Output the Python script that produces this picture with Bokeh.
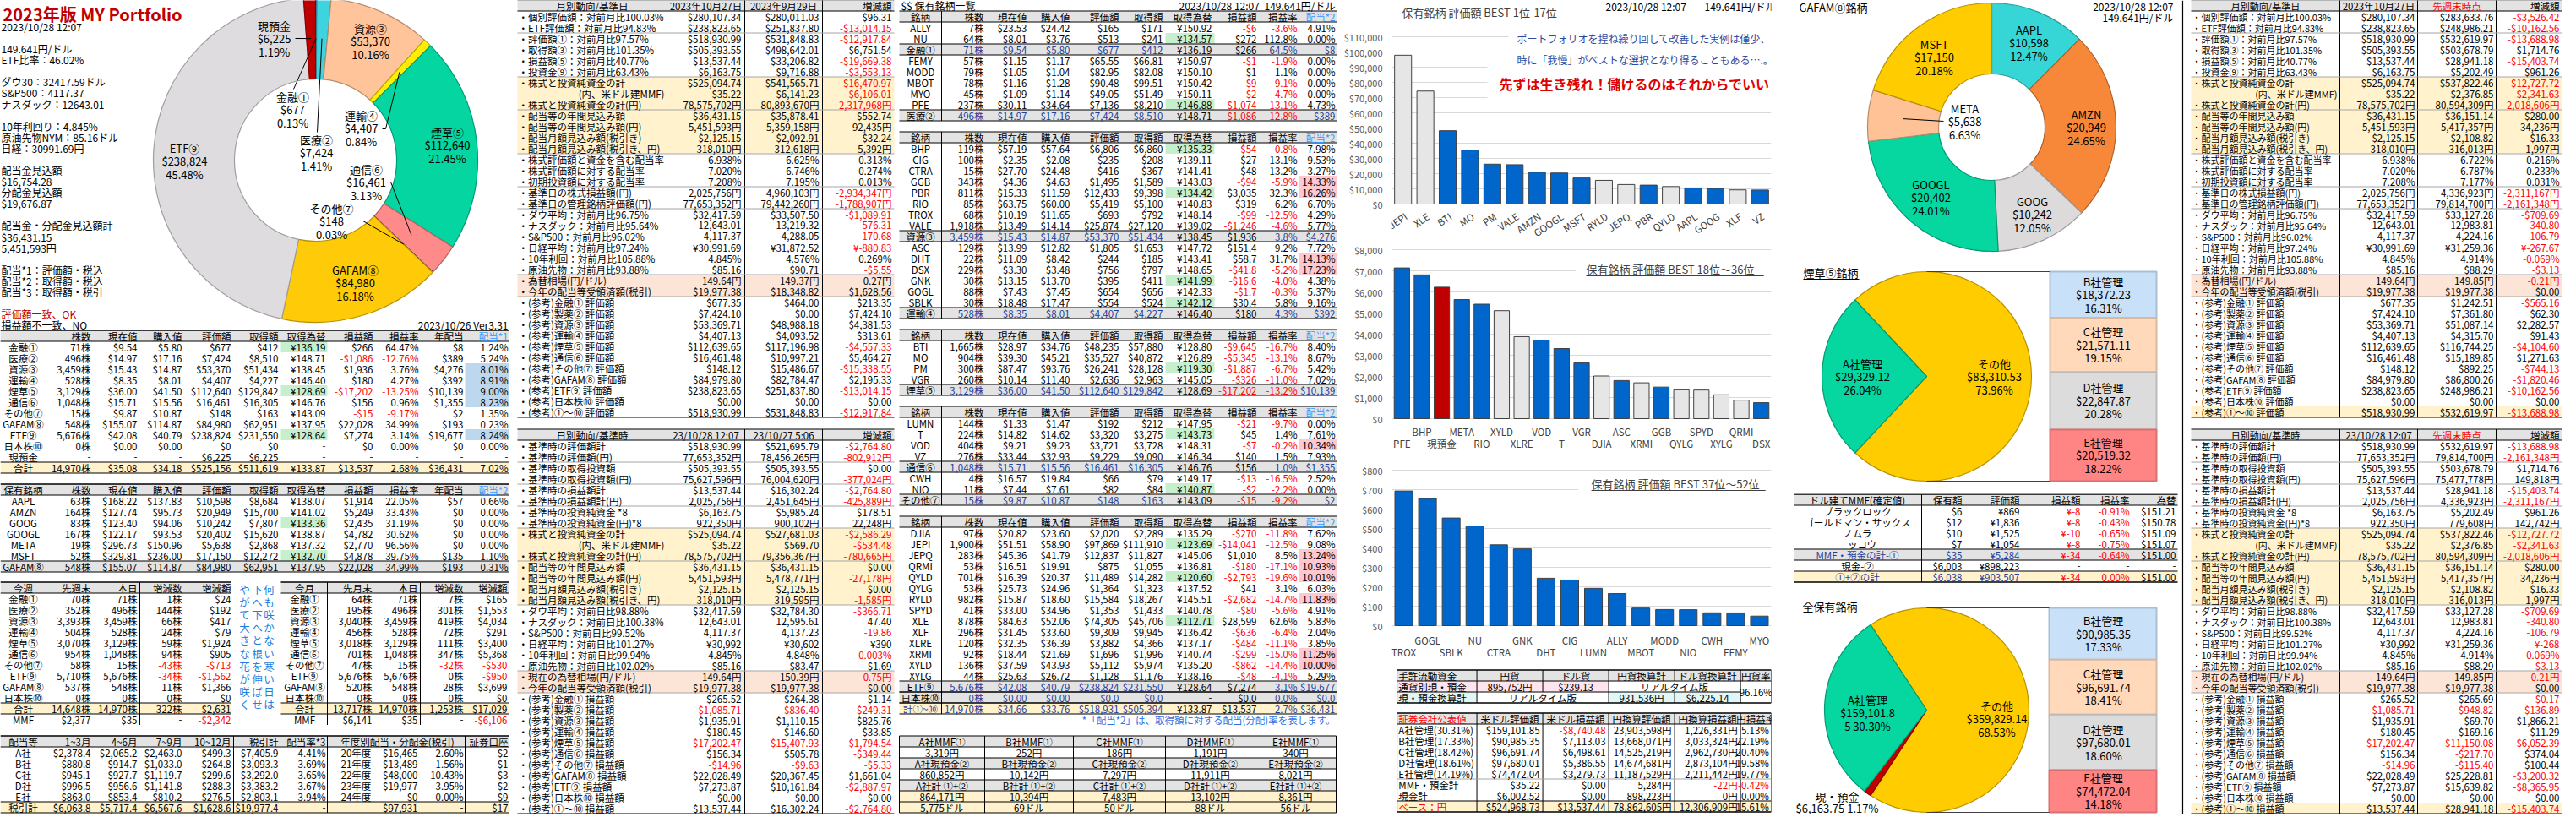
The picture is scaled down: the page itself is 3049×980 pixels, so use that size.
import re
import math
from bokeh.plotting import figure
from bokeh.models import Range1d, FixedTicker, NumeralTickFormatter, ColumnDataSource
from bokeh.layouts import row, column
from bokeh.embed import file_html
from bokeh.resources import INLINE
from bokeh.core.properties import value

# ====================== DATA ======================
sector_names = ["金融①", "医療②", "資源③", "運輸④", "煙草⑤", "通信⑥", "その他⑦", "GAFAM⑧", "ETF⑨", "現預金"]
sector_values = [677, 7424, 53370, 4407, 112640, 16461, 148, 84980, 238824, 6225]

gafam_names = ["AAPL", "AMZN", "GOOG", "GOOGL", "META", "MSFT"]
gafam_values = [10598, 20949, 10242, 20402, 5638, 17150]

tob_a_name = "A社管理"
tob_a_value = 29329.12
tob_box_names = ["B社管理", "C社管理", "D社管理", "E社管理"]
tob_box_values = [18372.23, 21571.11, 22847.87, 20519.32]

all_a_value = 159101.85
all_cash_value = 6163.75
all_box_names = ["B社管理", "C社管理", "D社管理", "E社管理"]
all_box_values = [90985.35, 96691.74, 97680.01, 74472.04]

bar1_names = ["JEPI", "XLE", "BTI", "MO", "PM", "VALE", "AMZN", "GOOGL", "MSFT", "RYLD", "JEPQ", "PBR", "QYLD", "AAPL", "GOOG", "XLF", "VZ"]
bar1_values = [97869, 74305, 48235, 35527, 26241, 25874, 20949, 20402, 17150, 15584, 12837, 12433, 11489, 10598, 10242, 9309, 9229]
bar1_kind = ["etf", "etf", "stock", "stock", "stock", "stock", "stock", "stock", "stock", "etf", "etf", "stock", "etf", "stock", "stock", "etf", "stock"]

bar2_names = ["PFE", "BHP", "現預金", "META", "RIO", "XYLD", "XLRE", "VOD", "T", "VGR", "DJIA", "ASC", "XRMI", "GGB", "QYLG", "SPYD", "XYLG", "QRMI", "DSX"]
bar2_values = [7136, 6806, 6225, 5638, 5419, 5112, 3882, 3721, 3320, 2636, 2020, 1805, 1696, 1495, 1364, 1353, 1128, 875, 756]
bar2_kind = ["stock", "stock", "cash", "stock", "stock", "etf", "etf", "stock", "stock", "stock", "etf", "stock", "etf", "stock", "etf", "etf", "etf", "etf", "stock"]

bar3_names = ["TROX", "GOGL", "SBLK", "NU", "CTRA", "GNK", "DHT", "CIG", "LUMN", "ALLY", "MBOT", "MODD", "NIO", "CWH", "FEMY", "MYO"]
bar3_values = [693, 654, 554, 513, 416, 395, 244, 235, 192, 165, 90.48, 82.95, 82, 66, 65.55, 49.05]
bar3_kind = ["stock"] * 16

info_lines = ["2023/10/28 12:07", "", "149.641円/ドル", "ETF比率：46.02%", "", "ダウ30：32417.59ドル", "S&P500：4117.37",
              "ナスダック：12643.01", "", "10年利回り：4.845%", "原油先物NYM：85.16ドル", "日経：30991.69円", "",
              "配当金見込額", "$16,754.28", "分配金見込額", "$19,676.87", "", "配当金・分配金見込額計", "$36,431.15",
              "5,451,593円", "", "配当*1：評価額・税込", "配当*2：取得額・税込", "配当*3：取得額・税引", "",
              "評価額一致、OK", "損益額不一致、NO"]

sum_header = ["", "株数", "現在値", "購入値", "評価額", "取得額", "取得為替", "損益額", "損益率", "年配当", "配当*1"]
sum_rows = [
    "金融①|71株|$9.54|$5.80|$677|$412|¥136.19|$266|64.47%|$8|1.24%",
    "医療②|496株|$14.97|$17.16|$7,424|$8,510|¥148.71|-$1,086|-12.76%|$389|5.24%",
    "資源③|3,459株|$15.43|$14.87|$53,370|$51,434|¥138.45|$1,936|3.76%|$4,276|8.01%",
    "運輸④|528株|$8.35|$8.01|$4,407|$4,227|¥146.40|$180|4.27%|$392|8.91%",
    "煙草⑤|3,129株|$36.00|$41.50|$112,640|$129,842|¥128.69|-$17,202|-13.25%|$10,139|9.00%",
    "通信⑥|1,048株|$15.71|$15.56|$16,461|$16,305|¥146.76|$156|0.96%|$1,355|8.23%",
    "その他⑦|15株|$9.87|$10.87|$148|$163|¥143.09|-$15|-9.17%|$2|1.35%",
    "GAFAM⑧|548株|$155.07|$114.87|$84,980|$62,951|¥137.95|$22,028|34.99%|$193|0.23%",
    "ETF⑨|5,676株|$42.08|$40.79|$238,824|$231,550|¥128.64|$7,274|3.14%|$19,677|8.24%",
    "日本株⑩|0株|$0.00|$0.00|$0|$0|-|$0|0.00%|$0|0.00%",
    "現預金|-|-|-|$6,225|$6,225|-|-|-|-|-",
]
sum_total = "合計|14,970株|$35.08|$34.18|$525,156|$511,619|¥133.87|$13,537|2.68%|$36,431|7.02%"
sum_green = ["金融①", "煙草⑤", "ETF⑨"]

gafam_header = ["保有銘柄", "株数", "現在値", "購入値", "評価額", "取得額", "取得為替", "損益額", "損益率", "年配当", "配当*2"]
gafam_rows = [
    "AAPL|63株|$168.22|$137.83|$10,598|$8,684|¥138.07|$1,914|22.05%|$57|0.66%",
    "AMZN|164株|$127.74|$95.73|$20,949|$15,700|¥141.02|$5,249|33.43%|$0|0.00%",
    "GOOG|83株|$123.40|$94.06|$10,242|$7,807|¥133.36|$2,435|31.19%|$0|0.00%",
    "GOOGL|167株|$122.17|$93.53|$20,402|$15,620|¥138.87|$4,782|30.62%|$0|0.00%",
    "META|19株|$296.73|$150.96|$5,638|$2,868|¥137.32|$2,770|96.56%|$0|0.00%",
    "MSFT|52株|$329.81|$236.00|$17,150|$12,272|¥132.70|$4,878|39.75%|$135|1.10%",
]
gafam_total = "GAFAM⑧|548株|$155.07|$114.87|$84,980|$62,951|¥137.95|$22,028|34.99%|$193|0.31%"
gafam_green = ["GOOG", "MSFT"]

wk_header = ["今週", "先週末", "本日", "増減数", "増減額"]
wk_rows = ["金融①|70株|71株|1株|$24", "医療②|352株|496株|144株|$192", "資源③|3,393株|3,459株|66株|$417",
           "運輸④|504株|528株|24株|$79", "煙草⑤|3,070株|3,129株|59株|$1,924", "通信⑥|954株|1,048株|94株|$905",
           "その他⑦|58株|15株|-43株|-$713", "ETF⑨|5,710株|5,676株|-34株|-$1,562", "GAFAM⑧|537株|548株|11株|$1,366",
           "日本株⑩|0株|0株|0株|$0"]
wk_total = "合計|14,648株|14,970株|322株|$2,631"
wk_mmf = "MMF|$2,377|$35|-|-$2,342"
mo_header = ["今月", "先月末", "本日", "増減数", "増減額"]
mo_rows = ["金融①|64株|71株|7株|$165", "医療②|195株|496株|301株|$1,553", "資源③|3,040株|3,459株|419株|$4,034",
           "運輸④|456株|528株|72株|$291", "煙草⑤|3,018株|3,129株|111株|$3,400", "通信⑥|701株|1,048株|347株|$5,368",
           "その他⑦|47株|15株|-32株|-$530", "ETF⑨|5,676株|5,676株|0株|-$950", "GAFAM⑧|520株|548株|28株|$3,699",
           "日本株⑩|0株|0株|0株|$0"]
mo_total = "合計|13,717株|14,970株|1,253株|$17,029"
mo_mmf = "MMF|$6,141|$35|-|-$6,106"
poem_columns = ["何も咲かない寒い日は", "下へ下へと根を伸ばせ", "やがて大きな花が咲く"]

div_header = ["配当等", "1~3月", "4~6月", "7~9月", "10~12月", "税引計", "配当率*3", "年度別配当・分配金(税引)", "証券口座"]
div_rows = ["A社|$2,378.4|$2,065.2|$2,463.0|$499.3|$7,405.9|4.41%|20年度|$16,465|2.60%|$2",
            "B社|$880.8|$914.7|$1,033.0|$264.8|$3,093.3|3.69%|21年度|$13,489|1.56%|$1",
            "C社|$945.1|$927.7|$1,119.7|$299.6|$3,292.0|3.65%|22年度|$48,000|10.43%|$3",
            "D社|$996.5|$956.6|$1,141.8|$288.3|$3,383.2|3.67%|23年度|$19,977|3.95%|$2",
            "E社|$863.0|$853.4|$810.2|$276.5|$2,803.1|3.94%|24年度|$0|0.00%|$9"]
div_total = "税引計|$6,063.8|$5,717.4|$6,567.6|$1,628.6|$19,977.4|-||$97,931|-|$17"

month_labels = ["・個別評価額：対前月比100.03%", "・ETF評価額：対前月比94.83%", "・評価額①：対前月比97.57%",
                "・取得額③：対前月比101.35%", "・損益額⑤：対前月比40.77%", "・投資金⑨：対前月比63.43%",
                "・株式と投資純資金の計", "(内、米ドル建MMF)", "・株式と投資純資金の計(円)", "・配当等の年間見込み額",
                "・配当等の年間見込み額(円)", "・配当月額見込み額(税引き)", "・配当月額見込み額(税引き、円)",
                "・株式評価額と資金を含む配当率", "・株式評価額に対する配当率", "・初期投資額に対する配当率",
                "・基準日の株式損益額(円)", "・基準日の管理銘柄評価額(円)", "・ダウ平均：対前月比96.75%",
                "・ナスダック：対前月比95.64%", "・S&P500：対前月比96.02%", "・日経平均：対前月比97.24%",
                "・10年利回：対前月比105.88%", "・原油先物：対前月比93.88%", "・為替相場(円/ドル)",
                "・今年の配当等受領済額(税引)", "・(参考)金融① 評価額", "・(参考)製薬② 評価額", "・(参考)資源③ 評価額",
                "・(参考)運輸④ 評価額", "・(参考)煙草⑤ 評価額", "・(参考)通信⑥ 評価額", "・(参考)その他⑦ 評価額",
                "・(参考)GAFAM⑧ 評価額", "・(参考)ETF⑨ 評価額", "・(参考)日本株⑩ 評価額", "・(参考)①～⑩ 評価額"]
month_cur = ["$280,107.34", "$238,823.65", "$518,930.99", "$505,393.55", "$13,537.44", "$6,163.75", "$525,094.74",
             "$35.22", "78,575,702円", "$36,431.15", "5,451,593円", "$2,125.15", "318,010円", "6.938%", "7.020%",
             "7.208%", "2,025,756円", "77,653,352円", "$32,417.59", "12,643.01", "4,117.37", "¥30,991.69", "4.845%",
             "$85.16", "149.64円", "$19,977.38", "$677.35", "$7,424.10", "$53,369.71", "$4,407.13", "$112,639.65",
             "$16,461.48", "$148.12", "$84,979.80", "$238,823.65", "$0.00", "$518,930.99"]
month_prev = ["$280,011.03", "$251,837.80", "$531,848.83", "$498,642.01", "$33,206.82", "$9,716.88", "$541,565.71",
              "$6,141.23", "80,893,670円", "$35,878.41", "5,359,158円", "$2,092.91", "312,618円", "6.625%", "6.746%",
              "7.195%", "4,960,103円", "79,442,260円", "$33,507.50", "13,219.32", "4,288.05", "¥31,872.52", "4.576%",
              "$90.71", "149.37円", "$18,348.82", "$464.00", "$0.00", "$48,988.18", "$4,093.52", "$117,196.98",
              "$10,997.21", "$15,486.67", "$82,784.47", "$251,837.80", "$0.00", "$531,848.83"]
month_diff = ["$96.31", "-$13,014.15", "-$12,917.84", "$6,751.54", "-$19,669.38", "-$3,553.13", "-$16,470.97",
              "-$6,106.01", "-2,317,968円", "$552.74", "92,435円", "$32.24", "5,392円", "0.313%", "0.274%", "0.013%",
              "-2,934,347円", "-1,788,907円", "-$1,089.91", "-576.31", "-170.68", "¥-880.83", "0.269%", "-$5.55",
              "0.27円", "$1,628.56", "$213.35", "$7,424.10", "$4,381.53", "$313.61", "-$4,557.33", "$5,464.27",
              "-$15,338.55", "$2,195.33", "-$13,014.15", "$0.00", "-$12,917.84"]
week_prev = ["$283,633.76", "$248,986.21", "$532,619.97", "$503,678.79", "$28,941.18", "$5,202.49", "$537,822.46",
             "$2,376.85", "80,594,309円", "$36,151.14", "5,417,357円", "$2,108.82", "316,013円", "6.722%", "6.787%",
             "7.177%", "4,336,923円", "79,814,700円", "$33,127.28", "12,983.81", "4,224.16", "¥31,259.36", "4.914%",
             "$88.29", "149.85円", "$19,977.38", "$1,242.51", "$7,361.80", "$51,087.14", "$4,315.70", "$116,744.25",
             "$15,189.85", "$892.25", "$86,800.26", "$248,986.21", "$0.00", "$532,619.97"]
week_diff = ["-$3,526.42", "-$10,162.56", "-$13,688.98", "$1,714.76", "-$15,403.74", "$961.26", "-$12,727.72",
             "-$2,341.63", "-2,018,606円", "$280.00", "34,236円", "$16.33", "1,997円", "0.216%", "0.233%", "0.031%",
             "-2,311,167円", "-2,161,348円", "-$709.69", "-340.80", "-106.79", "¥-267.67", "-0.069%", "-$3.13",
             "-0.21円", "$0.00", "-$565.16", "$62.30", "$2,282.57", "$91.43", "-$4,104.60", "$1,271.63", "-$744.13",
             "-$1,820.46", "-$10,162.56", "$0.00", "-$13,688.98"]

day_labels = ["・基準時の評価額計", "・基準時の評価額(円)", "・基準時の取得投資額", "・基準時の取得投資額(円)",
              "・基準時の損益額計", "・基準時の損益額計(円)", "・基準時の投資純資金 *8", "・基準時の投資純資金(円)*8",
              "・株式と投資純資金の計", "(内、米ドル建MMF)", "・株式と投資純資金の計(円)", "・配当等の年間見込み額",
              "・配当等の年間見込み額(円)", "・配当月額見込み額(税引き)", "・配当月額見込み額(税引き、円)",
              "・ダウ平均：対前日比98.88%", "・ナスダック：対前日比100.38%", "・S&P500：対前日比99.52%",
              "・日経平均：対前日比101.27%", "・10年利回：対前日比99.94%", "・原油先物：対前日比102.02%",
              "・現在の為替相場(円/ドル)", "・今年の配当等受領済額(税引)", "・(参考)金融① 損益額", "・(参考)製薬② 損益額",
              "・(参考)資源③ 損益額", "・(参考)運輸④ 損益額", "・(参考)煙草⑤ 損益額", "・(参考)通信⑥ 損益額",
              "・(参考)その他⑦ 損益額", "・(参考)GAFAM⑧ 損益額", "・(参考)ETF⑨ 損益額", "・(参考)日本株⑩ 損益額",
              "・(参考)①～⑩ 損益額"]
day_cur = ["$518,930.99", "77,653,352円", "$505,393.55", "75,627,596円", "$13,537.44", "2,025,756円", "$6,163.75",
           "922,350円", "$525,094.74", "$35.22", "78,575,702円", "$36,431.15", "5,451,593円", "$2,125.15", "318,010円",
           "$32,417.59", "12,643.01", "4,117.37", "¥30,992", "4.845%", "$85.16", "149.64円", "$19,977.38", "$265.52",
           "-$1,085.71", "$1,935.91", "$180.45", "-$17,202.47", "$156.34", "-$14.96", "$22,028.49", "$7,273.87",
           "$0.00", "$13,537.44"]
day_prev = ["$521,695.79", "78,456,265円", "$505,393.55", "76,004,620円", "$16,302.24", "2,451,645円", "$5,985.24",
            "900,102円", "$527,681.03", "$569.70", "79,356,367円", "$36,431.15", "5,478,771円", "$2,125.15",
            "319,595円", "$32,784.30", "12,595.61", "4,137.23", "¥30,602", "4.848%", "$83.47", "150.39円",
            "$19,977.38", "$264.38", "-$836.40", "$1,110.15", "$146.60", "-$15,407.93", "$505.78", "-$9.63",
            "$20,367.45", "$10,161.84", "$0.00", "$16,302.24"]
day_diff = ["-$2,764.80", "-802,912円", "$0.00", "-377,024円", "-$2,764.80", "-425,889円", "$178.51", "22,248円",
            "-$2,586.29", "-$534.48", "-780,665円", "$0.00", "-27,178円", "$0.00", "-1,585円", "-$366.71", "47.40",
            "-19.86", "¥390", "-0.003%", "$1.69", "-0.75円", "$0.00", "$1.14", "-$249.31", "$825.76", "$33.85",
            "-$1,794.54", "-$349.44", "-$5.33", "$1,661.04", "-$2,887.97", "$0.00", "-$2,764.80"]
dayw_prev = ["$532,619.97", "79,814,700円", "$503,678.79", "75,477,778円", "$28,941.18", "4,336,923円", "$5,202.49",
             "779,608円", "$537,822.46", "$2,376.85", "80,594,309円", "$36,151.14", "5,417,357円", "$2,108.82",
             "316,013円", "$33,127.28", "12,983.81", "4,224.16", "¥31,259.36", "4.914%", "$88.29", "149.85円",
             "$19,977.38", "$265.69", "-$948.82", "$69.70", "$169.16", "-$11,150.08", "-$217.70", "-$115.40",
             "$25,228.81", "$15,639.82", "$0.00", "$28,941.18"]
dayw_diff = ["-$13,688.98", "-2,161,348円", "$1,714.76", "149,818円", "-$15,403.74", "-2,311,167円", "$961.26",
             "142,742円", "-$12,727.72", "-$2,341.63", "-2,018,606円", "$280.00", "34,236円", "$16.33", "1,997円",
             "-$709.69", "-340.80", "-106.79", "¥-268", "-0.069%", "-$3.13", "-0.21円", "$0.00", "-$0.17",
             "-$136.89", "$1,866.21", "$11.29", "-$6,052.39", "$374.04", "$100.44", "-$3,200.32", "-$8,365.95",
             "$0.00", "-$15,403.74"]

c_header = ["銘柄", "株数", "現在値", "購入値", "評価額", "取得額", "取得為替", "損益額", "損益率", "配当*2"]
fin_rows = ["ALLY|7株|$23.53|$24.42|$165|$171|¥150.92|-$6|-3.6%|4.91%",
            "NU|64株|$8.01|$3.76|$513|$241|¥134.57|$272|112.8%|0.00%"]
fin_total = "金融①|71株|$9.54|$5.80|$677|$412|¥136.19|$266|64.5%|$8"
med_rows = ["FEMY|57株|$1.15|$1.17|$65.55|$66.81|¥150.97|-$1|-1.9%|0.00%",
            "MODD|79株|$1.05|$1.04|$82.95|$82.08|¥150.10|$1|1.1%|0.00%",
            "MBOT|78株|$1.16|$1.28|$90.48|$99.51|¥150.42|-$9|-9.1%|0.00%",
            "MYO|45株|$1.09|$1.14|$49.05|$51.49|¥150.11|-$2|-4.7%|0.00%",
            "PFE|237株|$30.11|$34.64|$7,136|$8,210|¥146.88|-$1,074|-13.1%|4.73%"]
med_total = "医療②|496株|$14.97|$17.16|$7,424|$8,510|¥148.71|-$1,086|-12.8%|$389"
res_rows = ["BHP|119株|$57.19|$57.64|$6,806|$6,860|¥135.33|-$54|-0.8%|7.98%",
            "CIG|100株|$2.35|$2.08|$235|$208|¥139.11|$27|13.1%|9.53%",
            "CTRA|15株|$27.70|$24.48|$416|$367|¥141.41|$48|13.2%|3.27%",
            "GGB|343株|$4.36|$4.63|$1,495|$1,589|¥143.03|-$94|-5.9%|14.33%",
            "PBR|811株|$15.33|$11.59|$12,433|$9,398|¥134.42|$3,035|32.3%|16.26%",
            "RIO|85株|$63.75|$60.00|$5,419|$5,100|¥140.83|$319|6.2%|6.70%",
            "TROX|68株|$10.19|$11.65|$693|$792|¥148.14|-$99|-12.5%|4.29%",
            "VALE|1,918株|$13.49|$14.14|$25,874|$27,120|¥139.02|-$1,246|-4.6%|5.77%"]
res_total = "資源③|3,459株|$15.43|$14.87|$53,370|$51,434|¥138.45|$1,936|3.8%|$4,276"
trn_rows = ["ASC|129株|$13.99|$12.82|$1,805|$1,653|¥147.72|$151.4|9.2%|7.72%",
            "DHT|22株|$11.09|$8.42|$244|$185|¥143.41|$58.7|31.7%|14.13%",
            "DSX|229株|$3.30|$3.48|$756|$797|¥148.65|-$41.8|-5.2%|17.23%",
            "GNK|30株|$13.15|$13.70|$395|$411|¥141.99|-$16.6|-4.0%|4.38%",
            "GOGL|88株|$7.43|$7.45|$654|$656|¥142.33|-$1.7|-0.3%|5.37%",
            "SBLK|30株|$18.48|$17.47|$554|$524|¥142.12|$30.4|5.8%|9.16%"]
trn_total = "運輸④|528株|$8.35|$8.01|$4,407|$4,227|¥146.40|$180|4.3%|$392"
tob_rows = ["BTI|1,665株|$28.97|$34.76|$48,235|$57,880|¥128.80|-$9,645|-16.7%|8.40%",
            "MO|904株|$39.30|$45.21|$35,527|$40,872|¥126.89|-$5,345|-13.1%|8.67%",
            "PM|300株|$87.47|$93.76|$26,241|$28,128|¥119.30|-$1,887|-6.7%|5.42%",
            "VGR|260株|$10.14|$11.40|$2,636|$2,963|¥145.05|-$326|-11.0%|7.02%"]
tob_total = "煙草⑤|3,129株|$36.00|$41.50|$112,640|$129,842|¥128.69|-$17,202|-13.2%|$10,139"
tel_rows = ["LUMN|144株|$1.33|$1.47|$192|$212|¥147.95|-$21|-9.7%|0.00%",
            "T|224株|$14.82|$14.62|$3,320|$3,275|¥143.73|$45|1.4%|7.61%",
            "VOD|404株|$9.21|$9.23|$3,721|$3,728|¥148.31|-$7|-0.2%|10.34%",
            "VZ|276株|$33.44|$32.93|$9,229|$9,090|¥146.34|$140|1.5%|7.93%"]
tel_total = "通信⑥|1,048株|$15.71|$15.56|$16,461|$16,305|¥146.76|$156|1.0%|$1,355"
oth_rows = ["CWH|4株|$16.57|$19.84|$66|$79|¥149.17|-$13|-16.5%|2.52%",
            "NIO|11株|$7.44|$7.61|$82|$84|¥140.87|-$2|-2.2%|0.00%"]
oth_total = "その他⑦|15株|$9.87|$10.87|$148|$163|¥143.09|-$15|-9.2%|$2"
etf_rows = ["DJIA|97株|$20.82|$23.60|$2,020|$2,289|¥135.29|-$270|-11.8%|7.62%",
            "JEPI|1,900株|$51.51|$58.90|$97,869|$111,910|¥123.69|-$14,041|-12.5%|9.08%",
            "JEPQ|283株|$45.36|$41.79|$12,837|$11,827|¥145.06|$1,010|8.5%|13.24%",
            "QRMI|53株|$16.51|$19.91|$875|$1,055|¥136.81|-$180|-17.1%|10.93%",
            "QYLD|701株|$16.39|$20.37|$11,489|$14,282|¥120.60|-$2,793|-19.6%|10.01%",
            "QYLG|53株|$25.73|$24.96|$1,364|$1,323|¥137.52|$41|3.1%|6.03%",
            "RYLD|982株|$15.87|$18.60|$15,584|$18,267|¥145.51|-$2,682|-14.7%|11.83%",
            "SPYD|41株|$33.00|$34.96|$1,353|$1,433|¥140.78|-$80|-5.6%|4.91%",
            "XLE|878株|$84.63|$52.06|$74,305|$45,706|¥112.71|$28,599|62.6%|5.83%",
            "XLF|296株|$31.45|$33.60|$9,309|$9,945|¥136.42|-$636|-6.4%|2.04%",
            "XLRE|120株|$32.35|$36.39|$3,882|$4,366|¥137.17|-$484|-11.1%|3.85%",
            "XRMI|92株|$18.44|$21.69|$1,696|$1,996|¥140.74|-$299|-15.0%|11.25%",
            "XYLD|136株|$37.59|$43.93|$5,112|$5,974|¥135.20|-$862|-14.4%|10.00%",
            "XYLG|44株|$25.63|$26.72|$1,128|$1,176|¥138.16|-$48|-4.1%|5.29%"]
etf_total = "ETF⑨|5,676株|$42.08|$40.79|$238,824|$231,550|¥128.64|$7,274|3.1%|$19,677"
jp_total = "日本株⑩|0株|$0.00|$0.00|$0.0|$0.0|-|$0.0|0.0%|$0.0"
grand_total = "計①~⑩|14,970株|$34.66|$33.76|$518,931|$505,394|¥133.87|$13,537|2.7%|$36,431"
c_green = ["NU", "PFE", "BHP", "PBR", "GNK", "SBLK", "PM", "T", "NIO", "JEPI", "QYLD", "XLE"]
c_note = "*「配当*2」は、取得額に対する配当(分配)率を表します。"

co_mmf_head = ["A社MMF①", "B社MMF①", "C社MMF①", "D社MMF①", "E社MMF①"]
co_mmf_vals = ["3,319円", "252円", "186円", "1,191円", "340円"]
co_cash_head = ["A社現預金②", "B社現預金②", "C社現預金②", "D社現預金②", "E社現預金②"]
co_cash_vals = ["860,852円", "10,142円", "7,297円", "11,911円", "8,021円"]
co_sum_head = ["A社計 ①+②", "B社計 ①+②", "C社計 ①+②", "D社計 ①+②", "E社計 ①+②"]
co_sum_yen = ["864,171円", "10,394円", "7,483円", "13,102円", "8,361円"]
co_sum_usd = ["5,775ドル", "69ドル", "50ドル", "88ドル", "56ドル"]

liq_header = ["手許流動資金", "円貨", "ドル貨", "円貨換算計", "ドル貨換算計", "円貨率"]
liq_row1 = ["通貨別現・預金", "895,752円", "$239.13", "リアルタイム版", "96.16%"]
liq_row2 = ["現・預金換算計", "リアルタイム版", "931,536円", "$6,225.14"]
pub_header = ["証券会社公表値", "米ドル評価額", "米ドル損益額", "円換算評価額", "円換算損益額", "円損益率"]
pub_rows = ["A社管理(30.31%)|$159,101.85|-$8,740.48|23,903,598円|1,226,331円|5.13%",
            "B社管理(17.33%)|$90,985.35|$7,113.03|13,668,071円|3,033,324円|22.19%",
            "C社管理(18.42%)|$96,691.74|$6,498.61|14,525,219円|2,962,730円|20.40%",
            "D社管理(18.61%)|$97,680.01|$5,386.55|14,674,681円|2,873,104円|19.58%",
            "E社管理(14.19%)|$74,472.04|$3,279.73|11,187,529円|2,211,442円|19.77%",
            "MMF・預金計|$35.22|$0.00|5,284円|-22円|-0.42%",
            "現金計|$6,002.52|$0.00|898,223円|0円|0.00%"]
pub_total = "ベース：円|$524,968.73|$13,537.44|78,862,605円|12,306,909円|15.61%"

mmf_header = ["ドル建てMMF(確定値)", "保有額", "評価額", "損益額", "損益率", "為替"]
mmf_rows = ["ブラックロック|$6|¥869|¥-8|-0.91%|$151.21", "ゴールドマン・サックス|$12|¥1,836|¥-8|-0.43%|$150.78",
            "ノムラ|$10|¥1,525|¥-10|-0.65%|$151.09", "ニッコウ|$7|¥1,054|¥-8|-0.75%|$151.07"]
mmf_sub = "MMF・預金の計-①|$35|¥5,284|¥-34|-0.64%|$151.00"
mmf_cash = "現金-②|$6,003|¥898,223|-|-|-"
mmf_total = "①+②の計|$6,038|¥903,507|¥-34|0.00%|$151.00"

# ====================== STYLE ======================
FONT = "Noto Sans CJK JP"
BLK = "#000000"
RED = "#FF0000"
DRED = "#C00000"
BLUE_T = "#1F3F99"
HBLUE = "#3399FF"
HDR = "#E3E3E3"
BEIGE = "#FFF2CC"
PINK = "#FCE4D6"
GREEN = "#C6EFCE"
LBLUE = "#BDD7EE"
HIPINK = "#FFC7CE"
SEP = "#A6A6A6"
sector_colors = ["#4472C4", "#3FD3E0", "#FFC49A", "#FFEE00", "#05D5A0", "#FF8A8A", "#7030A0", "#FFCA08", "#DEDCDE", "#C00000"]
gafam_colors = ["#36D6D6", "#F7883A", "#DCDADA", "#06D6A0", "#FFC296", "#FFCC00"]
box_colors = ["#C9E1F8", "#FFD9BA", "#DCDCDC", "#FF8585"]
BAR_COLORS = {"stock": "#0066CC", "etf": "#E6E6E6", "cash": "#C00000"}


def darker(c, f=0.72):
    r, g, b = int(c[1:3], 16), int(c[3:5], 16), int(c[5:7], 16)
    return "#%02x%02x%02x" % (int(r * f), int(g * f), int(b * f))


def acol(s):
    return RED if re.match(r"^¥?-.*\d", s) else BLK


def pctv(s):
    try:
        return float(s.rstrip("%"))
    except ValueError:
        return -1.0


class Panel:
    def __init__(self, x0, y0, w, h, fig=None, X=None, Y=None):
        if fig is None:
            fig = figure(width=w, height=h, x_range=Range1d(x0, x0 + w), y_range=Range1d(y0 + h, y0),
                         output_backend="svg", toolbar_location=None, min_border=0,
                         x_axis_location=None, y_axis_location=None, outline_line_color=None)
            fig.xgrid.visible = False
            fig.ygrid.visible = False
        self.p = fig
        self.X = X or (lambda v: v)
        self.Y = Y or (lambda v: v)
        self.T = {}
        self.Q = dict(left=[], right=[], top=[], bottom=[], fc=[])
        self.S = {}

    def txt(self, x, y, s, align="left", color=BLK, size=11.5, bold=False, angle=0.0, xd=None):
        if s == "":
            return
        d = self.T.setdefault((align, size, bold), dict(x=[], y=[], text=[], tc=[], ang=[]))
        d["x"].append(xd if xd is not None else self.X(x))
        d["y"].append(self.Y(y))
        d["text"].append(s)
        d["tc"].append(color)
        d["ang"].append(angle)

    def rect(self, x0, x1, y0, y1, c):
        self.Q["left"].append(self.X(x0))
        self.Q["right"].append(self.X(x1))
        self.Q["top"].append(self.Y(y0))
        self.Q["bottom"].append(self.Y(y1))
        self.Q["fc"].append(c)

    def seg(self, x0, y0, x1, y1, c=BLK, w=1.0):
        d = self.S.setdefault((c, w), dict(x0=[], y0=[], x1=[], y1=[]))
        d["x0"].append(self.X(x0))
        d["y0"].append(self.Y(y0))
        d["x1"].append(self.X(x1))
        d["y1"].append(self.Y(y1))

    def hline(self, x0, x1, y, c=BLK, w=1.0):
        self.seg(x0, y, x1, y, c, w)

    def vline(self, x, y0, y1, c=BLK, w=1.0):
        self.seg(x, y0, x, y1, c, w)

    def flush(self):
        if self.Q["left"]:
            self.p.quad(left="left", right="right", top="top", bottom="bottom", source=ColumnDataSource(self.Q),
                        fill_color="fc", line_color=None)
        for (c, w), d in self.S.items():
            self.p.segment(x0="x0", y0="y0", x1="x1", y1="y1", source=ColumnDataSource(d), line_color=c, line_width=w)
        for (al, sz, bold), d in self.T.items():
            self.p.text(x="x", y="y", text="text", angle="ang", source=ColumnDataSource(d), text_color="tc",
                        text_align=al, text_baseline="middle", text_font=value(FONT),
                        text_font_size="%spx" % sz, text_font_style="bold" if bold else "normal")
        return self.p


def ring(P, cx, cy, rin, rout, vals, colors, start_deg):
    tot = float(sum(vals))
    rot = math.pi / 2 - math.radians(start_deg)
    st, en, mid = [], [], []
    acc = 0.0
    for v in vals:
        a0 = acc / tot
        acc += v
        a1 = acc / tot
        st.append(rot - 2 * math.pi * a0)
        en.append(rot - 2 * math.pi * a1)
        mid.append(rot - math.pi * (a0 + a1))
    n = len(vals)
    src = ColumnDataSource(dict(x=[cx] * n, y=[cy] * n, s=st, e=en, fc=list(colors), lc=[darker(c) for c in colors]))
    if rin > 0:
        P.p.annular_wedge(x="x", y="y", inner_radius=rin, outer_radius=rout, start_angle="s", end_angle="e",
                          direction="clock", source=src, fill_color="fc", line_color="lc", line_width=1.2)
    else:
        P.p.wedge(x="x", y="y", radius=rout, start_angle="s", end_angle="e", direction="clock", source=src,
                  fill_color="fc", line_color="lc", line_width=1.2)
    return mid


def label3(P, x, y, lines, size=13, color=BLK, gap=15.5):
    for k, s in enumerate(lines):
        P.txt(x, y + (k - (len(lines) - 1) / 2.0) * gap, s, "center", color, size)


# ====================== PANEL A ======================
A = Panel(8, 8, 603, 964)
A.txt(11, 24, "2023年版 MY Portfolio", "left", DRED, 20, True)
for k, s in enumerate(info_lines):
    A.txt(9, 39 + 13.08 * k, s, "left", DRED if s.startswith("評価額一致") else BLK, 12)
A.txt(609, 392, "2023/10/26 Ver3.31", "right", BLK, 12)

CX, CY = 381, 197
mid = ring(A, CX, CY, 96, 192, sector_values, sector_colors, 0)
tot = float(sum(sector_values))
main_label_pos = [(354, 137), (382, 188), (446, 56), (435, 159), (537, 179), (441, 223), (400, 269), (428, 342), (226, 198), (332, 53)]
for i, nm in enumerate(sector_names):
    lx, ly = main_label_pos[i]
    label3(A, lx, ly, [nm, "${:,}".format(sector_values[i]), "{:.2f}%".format(sector_values[i] / tot * 100)])
main_leaders = {0: [(355, 113)], 1: [(383, 164)], 3: [(460, 160), (464, 160)], 5: [(466, 223), (470, 223)],
                6: [(431, 269), (437, 269)], 9: [(357, 53)]}
for i, pts in main_leaders.items():
    end = (CX + 144 * math.cos(mid[i]), CY - 144 * math.sin(mid[i]))
    path = pts + [end]
    for a, b in zip(path[:-1], path[1:]):
        A.seg(a[0], a[1], b[0], b[1], BLK, 1)

colsA = [35, 115, 170, 223, 281, 337, 393, 449, 503, 556, 609]


def rowA(P, y, cells, colors=None, size=11.5):
    for j, s in enumerate(cells):
        c = colors[j] if colors else acol(s)
        if j == 0:
            P.txt(colsA[0], y, s, "center", c, size)
        else:
            P.txt(colsA[j], y, s, "right", c, size)


# table 1
y = 405
A.rect(8, 611, y - 6.5, y + 6.5, HDR)
rowA(A, y, sum_header, [BLK] * 10 + [HBLUE])
A.hline(8, 611, y - 6.5, BLK, 1.5)
A.hline(8, 611, y + 6.5, BLK, 1)
for r in sum_rows:
    y += 13
    cells = r.split("|")
    if cells[0] in sum_green:
        A.rect(340, 395, y - 6.5, y + 6.5, GREEN)
    if pctv(cells[10]) >= 8:
        A.rect(558, 611, y - 6.5, y + 6.5, LBLUE)
    rowA(A, y, cells)
y += 13
A.rect(8, 611, y - 6.5, y + 6.5, BEIGE)
rowA(A, y, sum_total.split("|"))
A.hline(8, 611, y - 6.5, BLK, 1)
A.hline(8, 611, y + 6.5, BLK, 1.2)
A.vline(62, 398.5, y + 6.5, BLK, 1)

# table 2
y = 587
A.rect(8, 611, y - 6.5, y + 6.5, HDR)
rowA(A, y, gafam_header, [BLK] * 10 + [HBLUE])
A.hline(8, 611, y - 6.5, BLK, 1.5)
A.hline(8, 611, y + 6.5, BLK, 1)
for r in gafam_rows:
    y += 13
    cells = r.split("|")
    if cells[0] in gafam_green:
        A.rect(340, 395, y - 6.5, y + 6.5, GREEN)
    rowA(A, y, cells)
y += 13
A.rect(8, 611, y - 6.5, y + 6.5, HDR)
rowA(A, y, gafam_total.split("|"))
A.hline(8, 611, y - 6.5, BLK, 1)
A.hline(8, 611, y + 6.5, BLK, 1.2)
A.vline(62, 580.5, y + 6.5, BLK, 1)


# table 3 (week / month)
def change_table(P, xl, xr, lc, rights, vlines, header, rows, total, mmf):
    y = 703
    P.rect(xl, xr, y - 6.5, y + 6.5, HDR)
    P.hline(xl, xr, y - 6.5, BLK, 1.5)
    P.hline(xl, xr, y + 6.5, BLK, 1)
    allrows = [header] + [r.split("|") for r in rows] + [total.split("|"), mmf.split("|")]
    for k, cells in enumerate(allrows):
        yy = y + 13 * k
        if k == len(allrows) - 2:
            P.rect(xl, xr, yy - 6.5, yy + 6.5, BEIGE)
            P.hline(xl, xr, yy - 6.5, BLK, 1)
            P.hline(xl, xr, yy + 6.5, BLK, 1)
        for j, s in enumerate(cells):
            if j == 0:
                P.txt(lc, yy, s, "center", BLK)
            else:
                P.txt(rights[j - 1], yy, s, "right", acol(s) if k > 0 else BLK)
    for v in vlines:
        P.vline(v, y - 6.5, y + 13 * (len(allrows) - 1) + 6.5, BLK, 1)


change_table(A, 8, 281, 35, [115, 170, 223, 281], [62, 173], wk_header, wk_rows, wk_total, wk_mmf)
change_table(A, 340, 611, 368, [448, 502, 556, 608], [395, 505], mo_header, mo_rows, mo_total, mo_mmf)
for ci, colx in enumerate([326, 312, 297]):
    for k, ch in enumerate(poem_columns[ci]):
        A.txt(colx, 705 + 15.1 * k, ch, "center", "#1E7FE0", 12.5)

# table 4 (dividends)
y = 885
A.rect(8, 611, y - 6.5, y + 6.5, HDR)
A.hline(8, 611, y - 6.5, BLK, 1.5)
A.hline(8, 611, y + 6.5, BLK, 1)
hx = [(35, "center"), (115, "right"), (170, "right"), (223, "right"), (281, "right"), (337, "right"), (393, "right"),
      (478, "center"), (609, "right")]
for (x, al), s in zip(hx, div_header):
    A.txt(x, y, s, al, BLK)
dx = [(35, "center"), (115, "right"), (170, "right"), (223, "right"), (281, "right"), (337, "right"), (393, "right"),
      (411, "left"), (502, "right"), (556, "right"), (609, "right")]
for k, r in enumerate(div_rows + [div_total]):
    yy = y + 13 * (k + 1)
    if k == len(div_rows):
        A.rect(8, 611, yy - 6.5, yy + 6.5, BEIGE)
        A.hline(8, 611, yy - 6.5, BLK, 1)
        A.hline(8, 611, yy + 6.5, BLK, 1.2)
    for (x, al), s in zip(dx, r.split("|")):
        A.txt(x, yy, s, al, acol(s))
for v in [62, 284, 395, 558]:
    A.vline(v, y - 6.5, y + 13 * 6 + 6.5, BLK, 1)


# ====================== TREND TABLES (B, F) ======================
def trend_table(P, xl, xr, borders, rights, yh, header, hcolors, labels, c1, c2, c3, beige, pink, seps, lsize):
    n = len(labels)
    ylast = yh + 13 * n
    P.rect(xl, xr, yh - 6.5, yh + 6.5, HDR)
    for i in beige:
        P.rect(xl, xr, yh + 13 * (i + 1) - 6.5, yh + 13 * (i + 1) + 6.5, BEIGE)
    for i in pink:
        P.rect(xl, xr, yh + 13 * (i + 1) - 6.5, yh + 13 * (i + 1) + 6.5, PINK)
    P.hline(xl, xr, yh - 6.5, BLK, 1.2)
    P.hline(xl, xr, yh + 6.5, BLK, 1)
    P.hline(xl, xr, ylast + 6.5, BLK, 1.2)
    for i in seps:
        P.hline(xl, xr, yh + 13 * (i + 1) + 6.5, SEP, 1)
    for b in borders:
        P.vline(b, yh - 6.5, ylast + 6.5, BLK, 1)
    P.txt((xl + borders[0]) / 2, yh, header[0], "center", hcolors[0], lsize)
    P.txt((borders[0] + borders[1]) / 2, yh, header[1], "center", hcolors[1], 11.5)
    P.txt((borders[1] + borders[2]) / 2, yh, header[2], "center", hcolors[2], 11.5)
    P.txt(rights[2], yh, header[3], "right", hcolors[3], 11.5)
    for i in range(n):
        yy = yh + 13 * (i + 1)
        lab = labels[i]
        if lab.startswith("("):
            P.txt(borders[0] - 3, yy, lab, "right", BLK, lsize)
        else:
            P.txt(xl + 1, yy, lab, "left", BLK, lsize)
        for s, rx in zip((c1[i], c2[i], c3[i]), rights):
            P.txt(rx, yy, s, "right", acol(s), 11.5)


B = Panel(611, 8, 457, 964)
trend_table(B, 620, 1066, [797, 889, 981], [885, 977, 1063], 14, ["月別動向/基準日", "2023年10月27日", "2023年9月29日", "増減額"],
            [BLK] * 4, month_labels, month_cur, month_prev, month_diff, list(range(6, 13)), [24, 25],
            [1, 5, 8, 12, 15, 17, 23, 25], 11.5)
trend_table(B, 620, 1066, [797, 889, 981], [885, 977, 1063], 522, ["日別動向/基準時", "23/10/28 12:07", "23/10/27 5:06", "増減額"],
            [BLK] * 4, day_labels, day_cur, day_prev, day_diff, list(range(8, 15)), [21, 22],
            [1, 3, 5, 7, 10, 14, 20, 22], 11.5)

F = Panel(2589, 8, 452, 964)
F.vline(2591, 8, 972, BLK, 1.2)
trend_table(F, 2601, 3040, [2777, 2869, 2962], [2866, 2959, 3037], 14, ["月別動向/基準日", "2023年10月27日", "先週末時点", "増減額"],
            [BLK, BLK, RED, BLK], month_labels, month_cur, week_prev, week_diff, list(range(6, 13)) + [36], [24, 25],
            [1, 5, 8, 12, 15, 17, 23, 25], 11)
trend_table(F, 2601, 3040, [2777, 2869, 2962], [2866, 2959, 3037], 522, ["日別動向/基準時", "23/10/28 12:07", "先週末時点", "増減額"],
            [BLK, BLK, RED, BLK], day_labels, day_cur, dayw_prev, dayw_diff, list(range(8, 15)) + [33], [21, 22],
            [1, 3, 5, 7, 10, 14, 20, 22], 11)

# ====================== PANEL C ======================
C = Panel(1068, 8, 524, 964)
C.txt(1074, 14, "$$ 保有銘柄一覧", "left", BLK, 12)
C.txt(1403, 14, "2023/10/28 12:07", "left", BLK, 12)
C.txt(1588, 14, "149.641円/ドル", "right", BLK, 12)
c_cols = [1097, 1172, 1223, 1274, 1332, 1384, 1442, 1495, 1543, 1588]
CXL, CXR = 1072, 1590


def c_cells(y, cells, colors):
    for j, s in enumerate(cells):
        if j == 0:
            C.txt(c_cols[0], y, s, "center", colors[0])
        else:
            C.txt(c_cols[j], y, s, "right", colors[j])


c_sequence = [("H", None), ("R", fin_rows), ("S", fin_total), ("R", med_rows), ("S", med_total), ("B", None),
              ("H", None), ("R", res_rows), ("S", res_total), ("R", trn_rows), ("S", trn_total), ("B", None),
              ("H", None), ("R", tob_rows), ("S", tob_total), ("B", None),
              ("H", None), ("R", tel_rows), ("S", tel_total), ("R", oth_rows), ("S", oth_total), ("B", None),
              ("H", None), ("R", etf_rows), ("S", etf_total), ("S", jp_total), ("T", grand_total)]
y = 27
for kind, item in c_sequence:
    if kind == "B":
        y += 13
        continue
    if kind == "H":
        C.rect(CXL, CXR, y - 6.5, y + 6.5, HDR)
        C.hline(CXL, CXR, y - 6.5, BLK, 1.2)
        C.hline(CXL, CXR, y + 6.5, BLK, 1)
        c_cells(y, c_header, [BLK] * 9 + [HBLUE])
        C.vline(1122, y - 6.5, y + 6.5, BLK, 1)
        y += 13
        continue
    if kind == "R":
        for r in item:
            cells = r.split("|")
            if cells[0] in c_green:
                C.rect(1387, 1445, y - 6.5, y + 6.5, GREEN)
            if pctv(cells[9]) >= 10:
                C.rect(1545, CXR, y - 6.5, y + 6.5, HIPINK)
            c_cells(y, cells, [acol(s) for s in cells])
            C.vline(1122, y - 6.5, y + 6.5, BLK, 1)
            y += 13
        continue
    cells = item.split("|")
    C.rect(CXL, CXR, y - 6.5, y + 6.5, BEIGE if kind == "T" else HDR)
    C.hline(CXL, CXR, y - 6.5, BLK, 1)
    C.hline(CXL, CXR, y + 6.5, BLK, 1.2)
    cols = [BLK] + [BLUE_T] * 5 + [BLK, acol(cells[7]), RED if acol(cells[8]) == RED else BLUE_T, BLUE_T]
    if kind == "T":
        cols[0] = BLUE_T
    c_cells(y, cells, cols)
    C.vline(1122, y - 6.5, y + 6.5, BLK, 1)
    y += 13
C.txt(1588, y, c_note, "right", "#2F6FE0", 11.5)

# company MMF table
mb = [1072, 1173, 1278, 1387, 1493, 1589]
mrows = [(co_mmf_head, HDR), (co_mmf_vals, None), (co_cash_head, HDR), (co_cash_vals, None),
         (co_sum_head, HDR), (co_sum_yen, BEIGE), (co_sum_usd, BEIGE)]
for k, (cells, bg) in enumerate(mrows):
    yy = 885 + 13 * k
    if bg:
        C.rect(mb[0], mb[-1], yy - 6.5, yy + 6.5, bg)
    C.hline(mb[0], mb[-1], yy - 6.5, BLK, 1)
    for j, s in enumerate(cells):
        C.txt((mb[j] + mb[j + 1]) / 2, yy, s, "center", BLK)
C.hline(mb[0], mb[-1], 885 + 13 * 6 + 6.5, BLK, 1.2)
for v in mb:
    C.vline(v, 878.5, 969.5, BLK, 1)


# ====================== BAR CHARTS ======================
def bar_chart(x0, y0, w, h, fl, fr, base, top, vmax, step, names, vals, kinds, bw):
    n = len(names)
    per = vmax / float(base - top)
    p = figure(width=w, height=h, x_range=Range1d(-0.5, n - 0.5),
               y_range=Range1d((base - (y0 + h)) * per, (base - y0) * per),
               output_backend="svg", toolbar_location=None, min_border_left=fl - x0, min_border_right=x0 + w - fr,
               min_border_top=0, min_border_bottom=0, x_axis_location=None, outline_line_color=None)
    ticks = [step * k for k in range(int(round(vmax / step)) + 1)]
    ax = p.yaxis[0]
    ax.ticker = FixedTicker(ticks=ticks)
    ax.formatter = NumeralTickFormatter(format="$0,0")
    ax.axis_line_color = None
    ax.major_tick_line_color = None
    ax.minor_tick_line_color = None
    ax.major_label_standoff = 5
    ax.major_label_text_font = FONT
    ax.major_label_text_font_size = "11px"
    ax.major_label_text_color = "#595959"
    p.xgrid.visible = False
    p.ygrid.ticker = FixedTicker(ticks=ticks)
    p.ygrid.grid_line_color = "#D9D9D9"
    src = ColumnDataSource(dict(x=list(range(n)), top=vals, name=names, fc=[BAR_COLORS[k] for k in kinds]))
    p.vbar(x="x", top="top", width=bw, source=src, fill_color="fc", line_color="#404040", line_width=1)
    P = Panel(x0, y0, w, h, fig=p, X=lambda px: -0.5 + (px - fl) / float(fr - fl) * n, Y=lambda py: (base - py) * per)
    return P


D1 = bar_chart(1592, 8, 518, 287, 1655, 2104, 249, 51, 110000, 10000, bar1_names, bar1_values, bar1_kind, 0.76)
D1.rect(1793, 2106, 44, 75, "#FFFFFF")
D1.rect(1768, 2106, 75, 128, "#FFFFFF")
D1.txt(1667, 22, "保有銘柄 評価額 BEST 1位-17位", "left", "#404040", 13)
D1.hline(1667, 1865, 30, "#404040", 1)
D1.txt(1908, 15, "2023/10/28 12:07", "left", BLK, 12)
D1.txt(2025, 15, "149.641円/ドル", "left", BLK, 12)
D1.txt(1803, 53, "ポートフォリオを捏ね繰り回して改善した実例は僅少、", "left", "#2E4A9E", 12)
D1.txt(1803, 78, "時に「我慢」がベストな選択となり得ることもある….。", "left", "#2E4A9E", 12)
D1.txt(1782, 106, "先ずは生き残れ！儲けるのはそれからでいい", "left", "#E00000", 16, True)
for i, nm in enumerate(bar1_names):
    D1.txt(None, 262, nm, "right", "#404040", 11.5, angle=0.6, xd=i + 0.12)
D1.flush()

D2 = bar_chart(1592, 295, 518, 253, 1648, 2107, 503, 303, 8000, 1000, bar2_names, bar2_values, bar2_kind, 0.77)
D2.rect(1870, 2108, 315, 340, "#FFFFFF")
D2.txt(1883, 326, "保有銘柄 評価額 BEST 18位～36位", "left", "#404040", 13)
D2.hline(1883, 2098, 334, "#404040", 1)
for i, nm in enumerate(bar2_names):
    D2.txt(None, 518 if i % 2 else 532, nm, "center", "#404040", 11.5, xd=i)
D2.flush()

D3 = bar_chart(1592, 548, 518, 242, 1641, 2107, 748, 564, 800, 100, bar3_names, bar3_values, bar3_kind, 0.75)
D3.rect(1870, 2108, 570, 596, "#FFFFFF")
D3.txt(1886, 580, "保有銘柄 評価額 BEST 37位～52位", "left", "#404040", 13)
D3.hline(1886, 2100, 588, "#404040", 1)
for i, nm in enumerate(bar3_names):
    D3.txt(None, 765 if i % 2 else 779, nm, "center", "#404040", 11.5, xd=i)
D3.flush()

# ====================== PANEL D4 (liquidity / published) ======================
D4 = Panel(1592, 790, 518, 182)
bd = [1599, 1708, 1798, 1888, 1978, 2068, 2110]
ctr = [(bd[j] + bd[j + 1]) / 2 for j in range(6)]
D4.rect(bd[0], bd[-1], 800.5, 813.5, HDR)
for j, s in enumerate(liq_header):
    D4.txt(ctr[j] if j else bd[0] + 2, 807, s, "center" if j else "left", BLK)
D4.rect(bd[0], bd[3], 813.5, 826.5, "#FDE4EE")
D4.rect(bd[0], bd[1], 826.5, 839.5, "#E2F6F6")
D4.rect(bd[3], bd[5], 826.5, 839.5, "#E2F6F6")
D4.txt(bd[0] + 2, 820, liq_row1[0], "left")
D4.txt(ctr[1], 820, liq_row1[1], "center")
D4.txt(ctr[2], 820, liq_row1[2], "center")
D4.txt(bd[4], 820, liq_row1[3], "center")
D4.txt(ctr[5], 826.5, liq_row1[4], "center")
D4.txt(bd[0] + 2, 833, liq_row2[0], "left")
D4.txt(bd[2], 833, liq_row2[1], "center")
D4.txt(ctr[3], 833, liq_row2[2], "center")
D4.txt(ctr[4], 833, liq_row2[3], "center")
D4.hline(bd[0], bd[-1], 800.5, BLK, 1.5)
D4.hline(bd[0], bd[-1], 813.5, BLK, 1)
D4.hline(bd[0], bd[5], 826.5, BLK, 1)
D4.hline(bd[0], bd[-1], 839.5, BLK, 1.5)
for v in [bd[0], bd[1], bd[3], bd[5], bd[6]]:
    D4.vline(v, 800.5, 839.5, BLK, 1)
for v in [bd[2], bd[4]]:
    D4.vline(v, 800.5, 813.5, BLK, 1)
D4.vline(bd[2], 813.5, 826.5, BLK, 1)
D4.vline(bd[4], 826.5, 839.5, BLK, 1)

D4.rect(bd[0], bd[-1], 851.5, 864.5, HDR)
D4.txt(bd[0] + 2, 858, pub_header[0], "left", RED)
for j in range(1, 6):
    D4.txt(ctr[j], 858, pub_header[j], "center", BLK)
pr = [1794, 1884, 1974, 2064, 2107]
for k, r in enumerate(pub_rows + [pub_total]):
    yy = 871 + 13 * k
    cells = r.split("|")
    if k == len(pub_rows):
        D4.rect(bd[0], bd[-1], yy - 6.5, yy + 6.5, BEIGE)
    D4.txt(bd[0] + 2, yy, cells[0], "left", RED if k == len(pub_rows) else BLK)
    for j, s in enumerate(cells[1:]):
        D4.txt(pr[j], yy, s, "right", acol(s))
D4.hline(bd[0], bd[-1], 851.5, BLK, 1.5)
D4.hline(bd[0], bd[-1], 864.5, BLK, 1)
D4.hline(bd[0], bd[-1], 929.5, SEP, 1)
D4.hline(bd[0], bd[-1], 955.5, BLK, 1)
D4.hline(bd[0], bd[-1], 968.5, BLK, 1.5)
for v in bd:
    D4.vline(v, 851.5, 968.5, BLK, 1)

# ====================== PANEL E ======================
E1 = Panel(2110, 8, 479, 310)
E1.txt(2137, 16, "GAFAM⑧銘柄", "left", BLK, 13)
E1.hline(2137, 2223, 24, BLK, 1)
E1.txt(2580, 15, "2023/10/28 12:07", "right", BLK, 12)
E1.txt(2580, 28, "149.641円/ドル", "right", BLK, 12)
GX, GY = 2365, 158
gmid = ring(E1, GX, GY, 63, 147, gafam_values, gafam_colors, 0)
gtot = float(sum(gafam_values))
gafam_label_pos = [(2409, 58), (2477, 158), (2413, 261), (2293, 241), (2333, 151), (2297, 75)]
for i, nm in enumerate(gafam_names):
    lx, ly = gafam_label_pos[i]
    label3(E1, lx, ly, [nm, "${:,}".format(gafam_values[i]), "{:.2f}%".format(gafam_values[i] / gtot * 100)])
E1.seg(2308, 151, GX + 105 * math.cos(gmid[4]), GY - 105 * math.sin(gmid[4]), BLK, 1)
E1.flush()


def bar_of_pie(P, cx, cy, r, pie_vals, pie_cols, box_vals, bx0, bx1, total):
    ptot = float(sum(pie_vals))
    start = 90 - pie_vals[0] / ptot * 360 / 2
    ring(P, cx, cy, 0, r, pie_vals, pie_cols, start)
    btot = float(sum(box_vals))
    ytop = cy - r
    acc = 0.0
    tops, bots = [], []
    for v in box_vals:
        tops.append(ytop + acc / btot * 2 * r)
        acc += v
        bots.append(ytop + acc / btot * 2 * r)
    n = len(box_vals)
    P.p.quad(left=[bx0] * n, right=[bx1] * n, top=tops, bottom=bots, fill_color=box_colors[:n],
             line_color=[darker(c, 0.85) for c in box_colors[:n]], line_width=2)
    P.seg(cx, cy - r, bx0, cy - r, "#404040", 1)
    P.seg(cx, cy + r, bx0, cy + r, "#404040", 1)
    return tops, bots


E2 = Panel(2110, 318, 479, 274)
E2.txt(2142, 330, "煙草⑤銘柄", "left", BLK, 13)
E2.hline(2142, 2208, 338, BLK, 1)
tob_other = sum(tob_box_values)
tob_total_v = tob_other + tob_a_value
tops, bots = bar_of_pie(E2, 2288, 453, 124, [tob_other, tob_a_value], ["#FFCC00", "#06D6A0"], tob_box_values, 2434, 2560, tob_total_v)
label3(E2, 2212, 453, [tob_a_name, "${:,.2f}".format(tob_a_value), "{:.2f}%".format(tob_a_value / tob_total_v * 100)])
label3(E2, 2368, 453, ["その他", "${:,.2f}".format(tob_other), "{:.2f}%".format(tob_other / tob_total_v * 100)])
for i, nm in enumerate(tob_box_names):
    label3(E2, 2497, (tops[i] + bots[i]) / 2, [nm, "${:,.2f}".format(tob_box_values[i]), "{:.2f}%".format(tob_box_values[i] / tob_total_v * 100)])
E2.flush()

E3 = Panel(2110, 592, 479, 108)
mx = [(2206, "center"), (2330, "right"), (2398, "right"), (2470, "right"), (2528, "right"), (2583, "right")]
E3.rect(2131, 2585, 592.5, 605.5, HDR)
for (x, al), s in zip(mx, mmf_header):
    E3.txt(x, 599, s, al, BLK)
allm = [(r, None) for r in mmf_rows] + [(mmf_sub, HDR), (mmf_cash, None), (mmf_total, BEIGE)]
for k, (r, bg) in enumerate(allm):
    yy = 612 + 13 * k
    cells = r.split("|")
    if bg:
        E3.rect(2131, 2585, yy - 6.5, yy + 6.5, bg)
    for j, ((x, al), s) in enumerate(zip(mx, cells)):
        c = acol(s)
        if bg and j < 3:
            c = BLUE_T
        if bg == BEIGE and j == 4:
            c = RED
        E3.txt(x, yy, s, al, c)
E3.hline(2131, 2585, 592.5, BLK, 1.5)
E3.hline(2131, 2585, 605.5, BLK, 1)
E3.hline(2131, 2585, 657.5, BLK, 1)
E3.hline(2131, 2585, 670.5, BLK, 1)
E3.hline(2131, 2585, 683.5, BLK, 1)
E3.hline(2131, 2585, 696.5, BLK, 1.5)
E3.vline(2282, 592.5, 696.5, BLK, 1)
E3.flush()

E4 = Panel(2110, 700, 479, 272)
E4.txt(2141, 725, "全保有銘柄", "left", BLK, 13)
E4.hline(2141, 2201, 733, BLK, 1)
all_other = sum(all_box_values)
all_total = all_other + all_a_value + all_cash_value
tops, bots = bar_of_pie(E4, 2288, 848, 121, [all_other, all_cash_value, all_a_value], ["#FFCC00", "#C00000", "#06D6A0"],
                        all_box_values, 2433, 2560, all_total)
a_str = "${:,.2f}".format(all_a_value)
label3(E4, 2218, 851, ["A社管理", a_str[:-1], a_str[-1] + " {:.2f}%".format(all_a_value / all_total * 100)])
label3(E4, 2371, 858, ["その他", "${:,.2f}".format(all_other), "{:.2f}%".format(all_other / all_total * 100)])
E4.txt(2182, 950, "現・預金", "center", BLK, 13)
E4.txt(2182, 964, "${:,.2f} {:.2f}%".format(all_cash_value, all_cash_value / all_total * 100), "center", BLK, 13)
for i, nm in enumerate(all_box_names):
    label3(E4, 2497, (tops[i] + bots[i]) / 2, [nm, "${:,.2f}".format(all_box_values[i]), "{:.2f}%".format(all_box_values[i] / all_total * 100)])
E4.flush()

layout = row(A.flush(), B.flush(), C.flush(),
             column(D1.p, D2.p, D3.p, D4.flush()),
             column(E1.p, E2.p, E3.p, E4.p),
             F.flush())
open("out.html", "w").write(file_html(layout, INLINE))
